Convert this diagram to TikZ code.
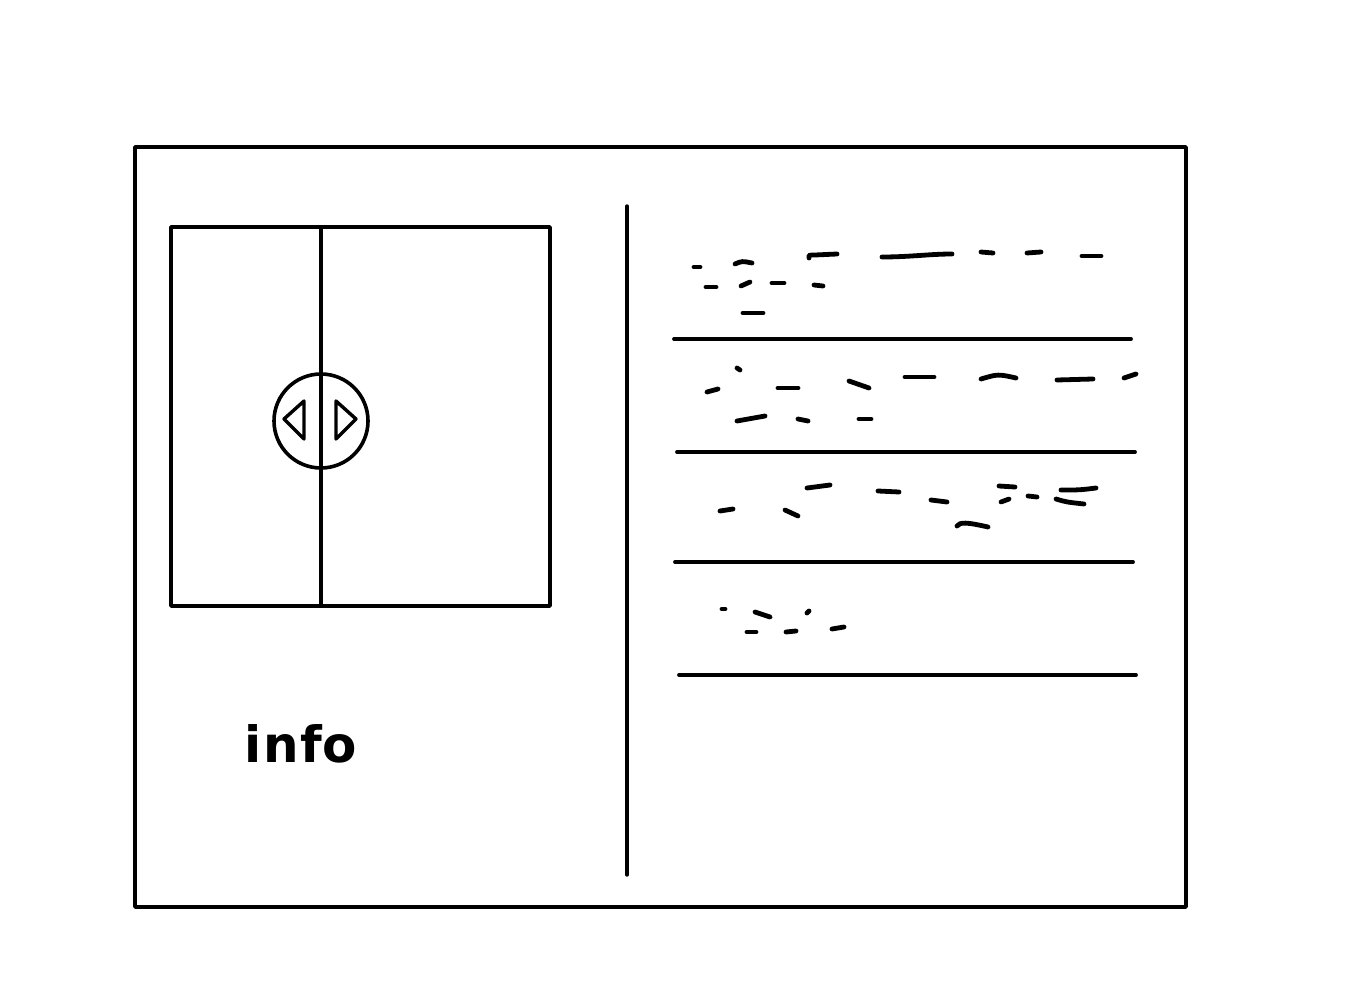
\documentclass[tikz,border=0pt]{standalone}
\usepackage{fontspec}
\setmainfont{DejaVu Sans}
\begin{document}
\begin{tikzpicture}[x=0.5pt,y=-0.5pt,
  frame/.style={line width=1.7pt,line join=round,line cap=round},
  scrib/.style={line width=2.4pt,line cap=round},
  rule/.style={line width=1.9pt,line cap=round}]
\useasboundingbox (0,0) rectangle (1365,1000);
\fill[white] (0,0) rectangle (1365,1000);
% outer frame
\draw[frame] (135,147) rectangle (1186,907);
% image box
\draw[frame] (171,227) rectangle (550,606);
\coordinate (vt) at (321,227);
\coordinate (vb) at (321,606);
\draw[frame] (vt) -- (vb);
\node[draw,circle,line width=1.8pt,inner sep=0pt,minimum size=47pt] (btn) at (321,421) {};
\draw[frame] (284,419) -- (304,401) -- (304,439) -- cycle;
\draw[frame] (336,401) -- (356,419) -- (336,439) -- cycle;
% divider
\coordinate (dt) at (627,206);
\coordinate (db) at (627,875);
\draw[frame] (dt) -- (db);
% info text
\node[font=\fontsize{25}{25}\selectfont\bfseries,anchor=base west,inner sep=0pt] (info) at (244,762) {i\kern1pt n\kern0.5pt f\kern0.5pt o};
% rules
\draw[rule] (674,339) -- (1131,339);
\draw[rule] (677,452) -- (1135,452);
\draw[rule] (675,562) -- (1133,562);
\draw[rule] (679,675) -- (1136,675);
% scribbles row 1
\draw[scrib] (694,267) -- (700,267);
\draw[scrib] (735,264) .. controls (742,261) .. (752,263);
\draw[scrib] (809,258) .. controls (809,255) .. (815,255) -- (837,254);
\draw[scrib] (882,257) .. controls (910,257) and (930,254) .. (952,254);
\draw[scrib] (981,252) -- (993,253);
\draw[scrib] (1027,253) -- (1041,252);
\draw[scrib] (1082,256) -- (1101,256);
\draw[scrib] (706,287) -- (716,287);
\draw[scrib] (741,286) -- (750,282);
\draw[scrib] (772,283) -- (784,283);
\draw[scrib] (814,285) -- (823,286);
\draw[scrib] (743,313) -- (763,313);
% row 2
\draw[scrib] (707,392) -- (718,389);
\draw[scrib] (737,368) -- (740,370);
\draw[scrib] (778,388) -- (798,388);
\draw[scrib] (849,381) -- (869,388);
\draw[scrib] (905,377) -- (934,377);
\draw[scrib] (981,379) .. controls (998,374) .. (1016,378);
\draw[scrib] (1057,380) -- (1093,379);
\draw[scrib] (1124,378) -- (1136,374);
\draw[scrib] (737,421) -- (765,416);
\draw[scrib] (798,419) -- (808,421);
\draw[scrib] (859,419) -- (871,419);
% row 3
\draw[scrib] (720,511) -- (733,509);
\draw[scrib] (785,510) -- (798,516);
\draw[scrib] (807,488) -- (830,485);
\draw[scrib] (878,491) -- (899,492);
\draw[scrib] (931,500) -- (947,502);
\draw[scrib] (957,526) .. controls (960,522) and (966,522) .. (988,527);
\draw[scrib] (999,486) -- (1015,487);
\draw[scrib] (1001,502) -- (1009,499);
\draw[scrib] (1028,496) -- (1037,497);
\draw[scrib] (1061,490) .. controls (1080,490) .. (1096,488);
\draw[scrib] (1056,499) .. controls (1066,502) .. (1084,504);
% row 4
\draw[scrib] (722,609) -- (725,609);
\draw[scrib] (755,612) -- (770,617);
\draw[scrib] (807,613) -- (809,611);
\draw[scrib] (747,632) -- (756,632);
\draw[scrib] (786,632) -- (796,631);
\draw[scrib] (832,629) -- (844,627);
\end{tikzpicture}
\end{document}
